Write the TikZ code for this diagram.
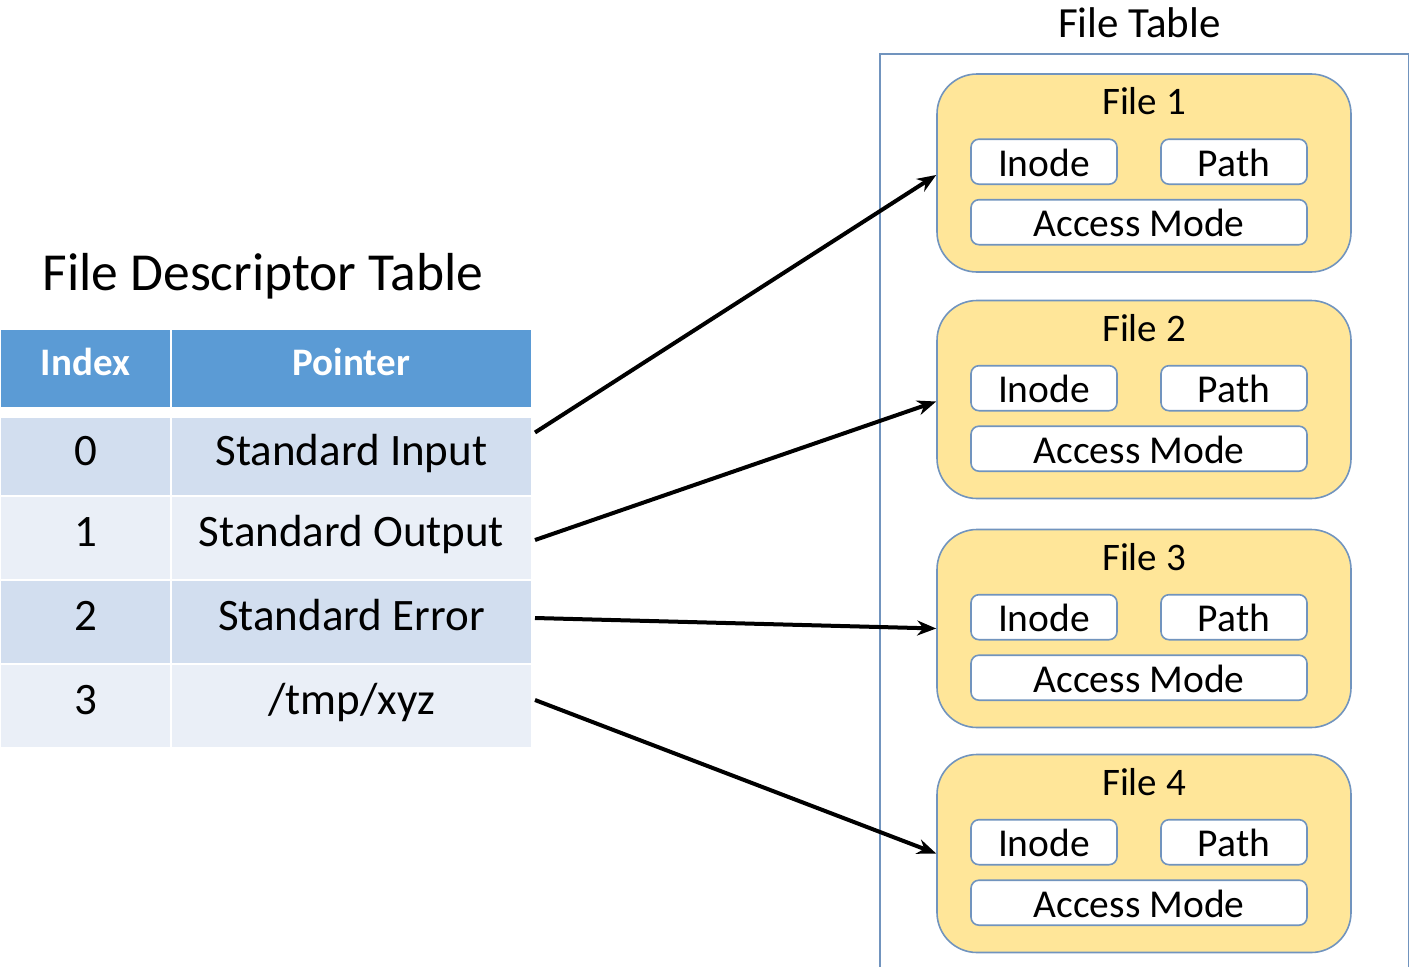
\documentclass[tikz,border=0pt]{standalone}
\usepackage{fontspec}
\setmainfont{Carlito}
\usetikzlibrary{calc,arrows.meta}
\definecolor{hdr}{HTML}{5B9BD5}
\definecolor{rowA}{HTML}{D2DEEF}
\definecolor{rowB}{HTML}{EAEFF7}
\definecolor{filefill}{HTML}{FFE699}
\definecolor{edge}{HTML}{7194BE}
\begin{document}
\begin{tikzpicture}[x=1pt,y=-1pt,
  cell/.style={rectangle, draw=white, line width=2pt, inner sep=0pt,
    text height=29pt, text depth=12pt, font=\fontsize{45}{54}\selectfont},
  hcell/.style={cell, fill=hdr, text=white, text height=25pt, text depth=12pt,
    font=\fontsize{39}{47}\selectfont\bfseries},
  idx/.style={minimum width=171pt},
  ptr/.style={minimum width=361pt},
  title/.style={inner sep=0pt, text depth=0pt},
  filebox/.style={rectangle, rounded corners=40pt, draw=edge, line width=1.6pt,
    fill=filefill, minimum width=414pt, minimum height=198pt, inner sep=0pt},
  field/.style={rectangle, rounded corners=8pt, draw=edge, line width=1.6pt,
    fill=white, minimum height=45pt, inner sep=0pt, text height=29pt,
    text depth=0pt, font=\fontsize{39.5}{47}\selectfont},
  ptrarrow/.style={line width=4pt, -{Stealth[length=19pt,width=15pt]}}
]
\useasboundingbox (0,0) rectangle (1410,966);

% descriptor table
\node[title, text height=34.5pt, font=\fontsize{53.5}{64}\selectfont] (fdt) at (263,273.5) {File Descriptor Table};
\node[hcell, idx, minimum height=79pt] (hi) at (85.5,368.5) {Index};
\node[hcell, ptr, minimum height=79pt] (hp) at (351.5,368.5) {Pointer};

\node[cell, idx, fill=rowA, minimum height=79pt] (i0) at (85.5,456.5) {0};
\node[cell, ptr, fill=rowA, minimum height=79pt] (r0) at (351.5,456.5) {Standard Input};
\node[cell, idx, fill=rowB, minimum height=84pt] (i1) at (85.5,538) {1};
\node[cell, ptr, fill=rowB, minimum height=84pt] (r1) at (351.5,538) {Standard Output};
\node[cell, idx, fill=rowA, minimum height=84pt] (i2) at (85.5,622) {2};
\node[cell, ptr, fill=rowA, minimum height=84pt] (r2) at (351.5,622) {Standard Error};
\node[cell, idx, fill=rowB, minimum height=84pt] (i3) at (85.5,706) {3};
\node[cell, ptr, fill=rowB, minimum height=84pt] (r3) at (351.5,706) {/tmp/xyz};

% file table
\node[title, text height=27.7pt, font=\fontsize{43}{52}\selectfont] (ftt) at (1139.5,23.5) {File Table};
\draw[edge, line width=1.3pt] (880,970) -- (880,54) -- (1408.5,54) -- (1408.5,970);

\foreach \i/\y in {1/173,2/399.5,3/628.5,4/853.5}{
  \node[filebox] (f\i) at (1144,\y) {};
  \node[title, text height=25pt, font=\fontsize{39}{47}\selectfont] (t\i) at ($(f\i.north)+(0,29)$) {File \i};
  \node[field, minimum width=146pt] (in\i) at ($(f\i.north)+(-100,88.5)$) {Inode};
  \node[field, minimum width=146pt] (pa\i) at ($(f\i.north)+(90,88.5)$) {Path};
  \node[field, minimum width=336pt] (am\i) at ($(f\i.north)+(-5,149)$) {Access Mode};
}

% pointers from descriptors to open files
\draw[ptrarrow] ([xshift=2pt,yshift=24pt]r0.east) -- ([yshift=-2pt]f1.west);
\draw[ptrarrow] ([xshift=2pt,yshift=-2pt]r1.east) -- ([yshift=-2pt]f2.west);
\draw[ptrarrow] ([xshift=2pt,yshift=4pt]r2.east) -- (f3.west);
\draw[ptrarrow] ([xshift=2pt,yshift=6pt]r3.east) -- (f4.west);
\end{tikzpicture}
\end{document}
